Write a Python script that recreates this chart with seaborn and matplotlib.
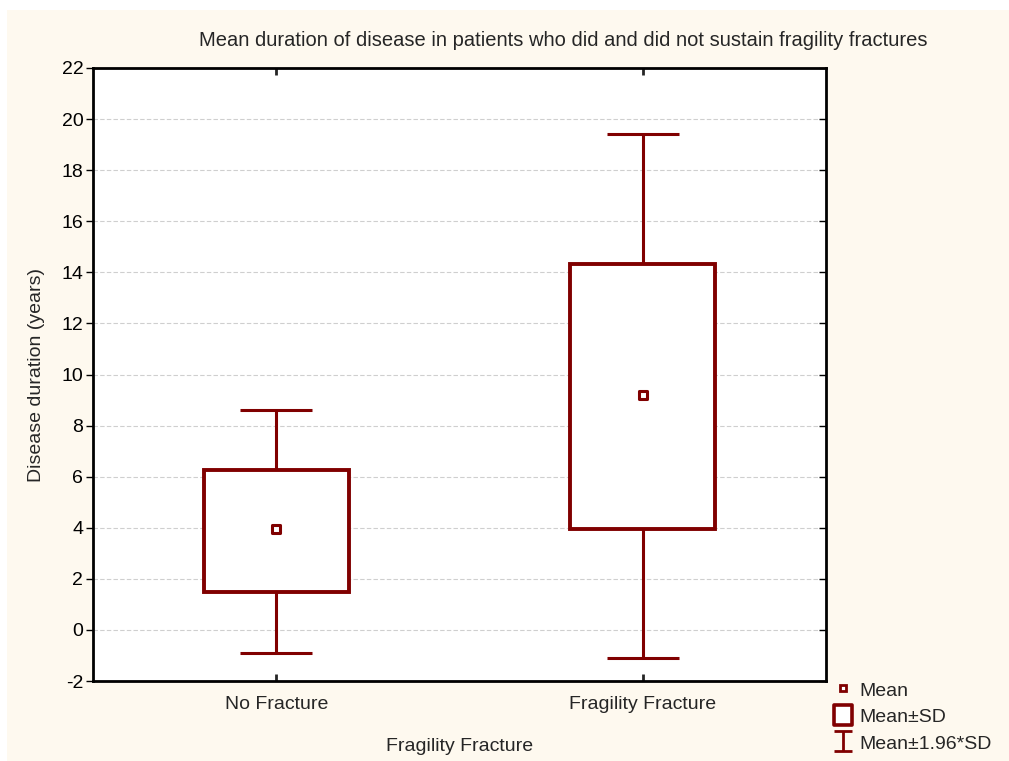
import numpy as np
import pandas as pd
import matplotlib
matplotlib.use("Agg")
import matplotlib.pyplot as plt
import seaborn as sns
from matplotlib.lines import Line2D
from matplotlib.path import Path
from matplotlib.patches import Rectangle

# ---- data ----
categories = ["No Fracture", "Fragility Fracture"]
means = [3.95, 9.2]
sd_low = [1.48, 3.95]
sd_high = [6.27, 14.33]
ci_low = [-0.90, -1.10]
ci_high = [8.62, 19.42]
y_ticks = list(range(-2, 23, 2))

title = "Mean duration of disease in patients who did and did not sustain fragility fractures"
xlabel = "Fragility Fracture"
ylabel = "Disease duration (years)"

RED = "#800000"
BG = "#FEF9EF"
FS = 14

sns.set_style("white")
plt.rcParams["font.family"] = ["Liberation Sans", "DejaVu Sans"]

fig = plt.figure(figsize=(10.09, 7.61), dpi=100, facecolor="white")
fig.patches.append(Rectangle((7 / 1009, 0), 1 - 7 / 1009, 1 - 10 / 761,
                             transform=fig.transFigure, facecolor=BG,
                             edgecolor="none", zorder=-10))
ax = fig.add_axes([93 / 1009, 1 - 681 / 761, (826 - 93) / 1009, (681 - 68) / 761])
ax.set_facecolor("white")

df = pd.DataFrame({"cat": categories, "mean": means, "lo": sd_low, "hi": sd_high,
                   "clo": ci_low, "chi": ci_high})
x = np.arange(len(categories))

# whiskers and caps
ax.vlines(x, df["clo"], df["chi"], color=RED, lw=2.2, zorder=2)
ax.hlines(df["chi"], x - 0.098, x + 0.098, color=RED, lw=2.2, zorder=2)
ax.hlines(df["clo"], x - 0.098, x + 0.098, color=RED, lw=2.2, zorder=2)
# boxes (mean ± SD)
ax.bar(x, df["hi"] - df["lo"], bottom=df["lo"], width=0.395, facecolor="white",
       edgecolor=RED, linewidth=2.8, zorder=3)
# mean markers
sns.scatterplot(data=df, x="cat", y="mean", marker="s", s=36, facecolor="white",
                edgecolor=RED, linewidth=2.2, zorder=4, ax=ax, legend=False)

ax.set_xlim(-0.5, 1.5)
ax.set_ylim(-2, 22)
ax.set_xticks(x)
ax.set_xticklabels(categories, fontsize=FS)
ax.set_yticks(y_ticks)
ax.set_yticklabels([str(v) for v in y_ticks], fontsize=FS)
ax.yaxis.grid(True, color="#CFCFCF", linestyle=(0, (4, 2)), linewidth=0.8)
ax.set_axisbelow(True)
for s in ax.spines.values():
    s.set_color("black")
    s.set_linewidth(2)
ax.tick_params(axis="y", which="both", left=True, right=True, direction="out",
               length=5, width=1, colors="black", pad=2)
ax.tick_params(axis="x", bottom=True, top=True, direction="in", length=5,
               width=2, pad=11)
# right ticks inside
for t in ax.yaxis.get_major_ticks():
    t.tick2line.set_marker(matplotlib.lines.TICKLEFT)
    t.tick2line.set_markersize(5)

ax.set_xlabel(xlabel, fontsize=FS, labelpad=18)
ax.set_ylabel(ylabel, fontsize=FS, labelpad=12)
fig.text(563 / 1009, 1 - 41 / 761, title, ha="center", va="center", fontsize=FS + 0.5)

# legend
ibar = Path([(-0.85, 1), (0.85, 1), (0, 1), (0, -1), (-0.85, -1), (0.85, -1)],
            [Path.MOVETO, Path.LINETO, Path.MOVETO, Path.LINETO, Path.MOVETO, Path.LINETO])
rect = Path([(-0.86, -1), (0.86, -1), (0.86, 1), (-0.86, 1), (-0.86, -1)],
            [Path.MOVETO, Path.LINETO, Path.LINETO, Path.LINETO, Path.CLOSEPOLY])
handles = [
    Line2D([], [], marker="s", ls="none", markersize=5, markerfacecolor="white",
           markeredgecolor=RED, markeredgewidth=2),
    Line2D([], [], marker=rect, ls="none", markersize=15, markerfacecolor="white",
           markeredgecolor=RED, markeredgewidth=2.6),
    Line2D([], [], marker=ibar, ls="none", markersize=15, markerfacecolor="none",
           markeredgecolor=RED, markeredgewidth=2),
]
fig.legend(handles, ["Mean", "Mean\u00b1SD", "Mean\u00b11.96*SD"], loc="upper left",
           bbox_to_anchor=(829 / 1009, 1 - 680 / 761), frameon=False,
           fontsize=FS, handletextpad=0.1, labelspacing=0.34, handlelength=1.45,
           handleheight=1.1, borderaxespad=0, borderpad=0)

fig.savefig("out.png", dpi=100, facecolor=fig.get_facecolor())
